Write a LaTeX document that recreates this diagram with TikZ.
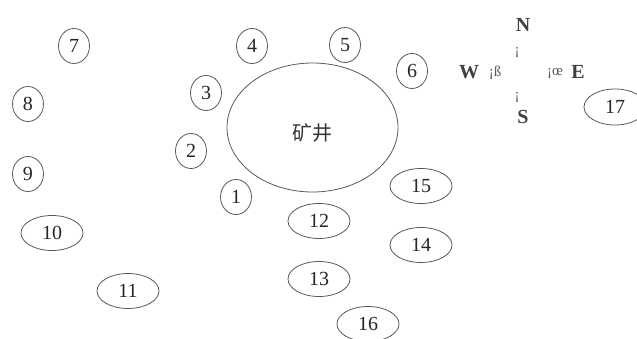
\documentclass[tikz,border=0pt]{standalone}
\usepackage{fontspec}
\setmainfont{Liberation Serif}
\newfontfamily\cjk{Noto Sans CJK SC}
\usetikzlibrary{shapes.geometric}
\begin{document}
\begin{tikzpicture}[x=1pt,y=-1pt,
  lbl/.style={ellipse,draw=black!65,line width=0.8pt,inner sep=0pt,
    font=\fontsize{20}{20}\selectfont,text=black!85},
  sm/.style={lbl,minimum width=31pt,minimum height=35pt},
  wd/.style={lbl,minimum width=62pt,minimum height=35pt},
  dir/.style={font=\fontsize{20}{20}\selectfont\bfseries,text=black!75,inner sep=0pt},
  tick/.style={font=\fontsize{15}{15}\selectfont,text=black!65,inner sep=0pt}]
\useasboundingbox (0,0) rectangle (637,339);
\begin{scope}
\clip (0,0) rectangle (637,339);
\node[ellipse,draw=black!65,line width=0.8pt,minimum width=171pt,minimum height=129pt,inner sep=0pt] (shaft) at (312.5,127.5) {};
\node[font=\cjk\fontsize{20}{20}\selectfont,text=black!80] (shaftlbl) at (312,133) {矿井};
\node[sm] (n1) at (236,197) {1};
\node[sm] (n2) at (191,151) {2};
\node[sm] (n3) at (206,93) {3};
\node[sm] (n4) at (252,46) {4};
\node[sm] (n5) at (345,45) {5};
\node[sm] (n6) at (412,71) {6};
\node[sm] (n7) at (74,46) {7};
\node[sm] (n8) at (28,104) {8};
\node[sm] (n9) at (28,174) {9};
\node[wd] (n10) at (52,233) {10};
\node[wd] (n11) at (128,291) {11};
\node[wd] (n12) at (319,221) {12};
\node[wd] (n13) at (319,279) {13};
\node[wd] (n14) at (421,245) {14};
\node[wd] (n15) at (421,186) {15};
\node[wd] (n16) at (368,324) {16};
\node[wd,minimum height=36pt] (n17) at (615,107) {17};
\node[dir] (cN) at (523,25) {N};
\node[tick] (cNt) at (517,52) {¡};
\node[dir] (cW) at (469,72) {W};
\node[tick] (cWt) at (495,73) {¡ß};
\node[tick] (cEt) at (555,73) {¡œ};
\node[dir] (cE) at (578,72) {E};
\node[tick] (cSt) at (517,97) {¡};
\node[dir] (cS) at (523,117) {S};
\end{scope}
\end{tikzpicture}
\end{document}
